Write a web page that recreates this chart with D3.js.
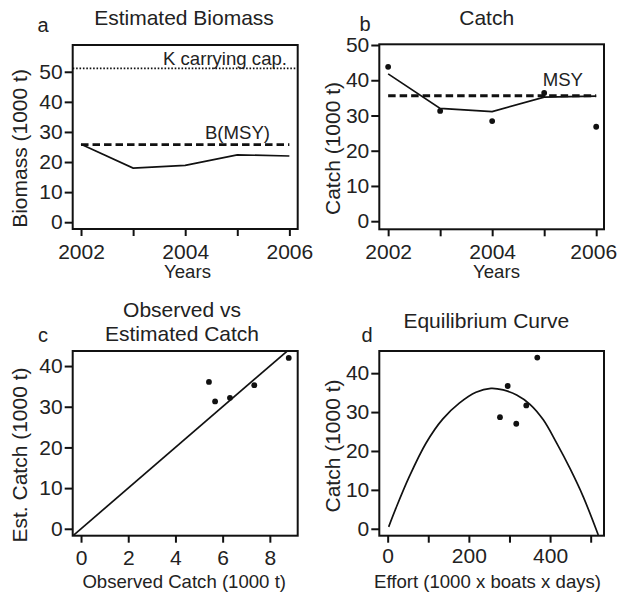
<!DOCTYPE html>
<html>
<head>
<meta charset="utf-8">
<script src="https://cdn.jsdelivr.net/npm/d3@7/dist/d3.min.js"></script>
<style>
  html, body { margin: 0; padding: 0; background: #fff; }
  svg { display: block; }
  text { font-family: "Liberation Sans", Arial, Helvetica, sans-serif; fill: #222; }
</style>
</head>
<body>
<svg id="chart" width="617" height="599"></svg>
<script>
// ---------- data ----------
const years = [2002, 2003, 2004, 2005, 2006];
const biomassEst = [25.9, 18.0, 18.9, 22.4, 22.0];
const carryingK = 51.1;
const biomassMSY = 25.8;

const catchObs = [43.8, 31.3, 28.4, 36.4, 26.8];
const catchEst = [41.8, 32.0, 31.1, 35.2, 35.5];
const msy = 35.6;

const obsCatchC = [5.42, 5.68, 6.31, 7.34, 8.80];
const estCatchC = [36.1, 31.3, 32.2, 35.3, 42.0];
const refLineC = [[-1, -5], [9.5, 47.5]];

const effortD = [368.5, 341.4, 276.6, 295.6, 316.7];
const catchD = [44.0, 31.7, 28.7, 36.7, 27.0];
const curveEffort = [2.5, 20.4, 53.2, 94.3, 135.5, 176.4, 217.5, 254.4, 284.7, 317.7, 350.5, 383.3, 416.3, 449.0, 481.8, 518.7];
const curveCatch  = [0.5, 5.3, 13.4, 22.0, 28.2, 32.3, 35.1, 36.1, 35.7, 34.4, 32.0, 28.0, 22.0, 15.5, 8.2, -1.6];

const yearTicks = [2002, 2003, 2004, 2005, 2006];
const yearLabels = [2002, 2004, 2006];
const yTicksAB = [0, 10, 20, 30, 40, 50];
const yTicksCD = [0, 10, 20, 30, 40];
const xTicksC = [0, 2, 4, 6, 8];
const xTicksD = [0, 100, 200, 300, 400, 500];
const xLabelsD = [0, 200, 400];

// ---------- helpers ----------
const svg = d3.select("#chart");
const TICK_FONT = 21, YTITLE_FONT = 21, XTITLE_FONT = 18.6, TITLE_FONT = 21, LETTER_FONT = 20;

function panel(cfg) {
  const g = svg.append("g");
  const x = d3.scaleLinear().domain(cfg.xDomain).range([cfg.left, cfg.right]);
  const y = d3.scaleLinear().domain(cfg.yDomain).range([cfg.bottom, cfg.top]);
  const clipId = "clip" + cfg.letter;
  svg.append("clipPath").attr("id", clipId).append("rect")
    .attr("x", cfg.left).attr("y", cfg.top)
    .attr("width", cfg.right - cfg.left).attr("height", cfg.bottom - cfg.top);
  const plot = g.append("g").attr("clip-path", `url(#${clipId})`);

  // x axis
  const xa = g.append("g").attr("transform", `translate(0,${cfg.bottom})`)
    .call(d3.axisBottom(x).tickValues(cfg.xTicks).tickSize(7)
      .tickFormat(d => cfg.xLabels.includes(d) ? String(d) : ""));
  xa.select(".domain").remove();
  xa.selectAll("line").attr("stroke", "#111").attr("stroke-width", 2);
  xa.selectAll("text").attr("y", cfg.xLabelOffset).attr("dy", 0)
    .style("font-size", TICK_FONT + "px").attr("fill", "#222");
  if (cfg.lastLabelShift) {
    xa.selectAll("text").filter(d => d === cfg.xTicks[cfg.xTicks.length - 1])
      .attr("dx", cfg.lastLabelShift);
  }

  // y axis
  const ya = g.append("g").attr("transform", `translate(${cfg.left},0)`)
    .call(d3.axisLeft(y).tickValues(cfg.yTicks).tickSize(8).tickPadding(2));
  ya.select(".domain").remove();
  ya.selectAll("line").attr("stroke", "#111").attr("stroke-width", 2);
  ya.selectAll("text").style("font-size", TICK_FONT + "px").attr("fill", "#222");

  // box
  g.append("rect").attr("x", cfg.left).attr("y", cfg.top)
    .attr("width", cfg.right - cfg.left).attr("height", cfg.bottom - cfg.top)
    .attr("fill", "none").attr("stroke", "#111").attr("stroke-width", 2);

  // titles
  cfg.title.forEach((t, i) => {
    g.append("text").attr("x", cfg.titleX).attr("y", cfg.titleY[i])
      .attr("text-anchor", "middle").style("font-size", TITLE_FONT + "px").text(t);
  });
  g.append("text").attr("x", cfg.letterX).attr("y", cfg.letterY)
    .attr("text-anchor", "middle").style("font-size", LETTER_FONT + "px").text(cfg.letter);
  g.append("text").attr("x", cfg.xTitleX).attr("y", cfg.xTitleY)
    .attr("text-anchor", "middle").style("font-size", XTITLE_FONT + "px").text(cfg.xTitle);
  g.append("text")
    .attr("transform", `translate(${cfg.yTitleX},${cfg.yTitleY}) rotate(-90)`)
    .attr("text-anchor", "middle").style("font-size", YTITLE_FONT + "px").text(cfg.yTitle);

  return { g, plot, x, y };
}

function dots(plot, x, y, xs, ys) {
  plot.selectAll(null).data(xs.map((v, i) => [v, ys[i]])).enter().append("circle")
    .attr("cx", d => x(d[0])).attr("cy", d => y(d[1])).attr("r", 2.9).attr("fill", "#111");
}

// ---------- panel a ----------
{
  const { g, plot, x, y } = panel({
    letter: "a", left: 72.7, right: 297.7, top: 45, bottom: 229,
    xDomain: [2001.84, 2006.16], yDomain: [-2.26, 58.9],
    xTicks: yearTicks, xLabels: yearLabels, yTicks: yTicksAB, xLabelOffset: 30,
    title: ["Estimated Biomass"], titleX: 184, titleY: [25],
    letterX: 43, letterY: 32, xTitle: "Years", xTitleX: 187.5, xTitleY: 278.3,
    yTitle: "Biomass (1000 t)", yTitleX: 26.5, yTitleY: 148.5
  });
  plot.append("line").attr("x1", x.range()[0]).attr("x2", x.range()[1])
    .attr("y1", y(carryingK)).attr("y2", y(carryingK))
    .attr("stroke", "#111").attr("stroke-width", 1.8).attr("stroke-dasharray", "1.6,1.8");
  plot.append("line").attr("x1", x(years[0])).attr("x2", x(years[years.length - 1]))
    .attr("y1", y(biomassMSY)).attr("y2", y(biomassMSY))
    .attr("stroke", "#111").attr("stroke-width", 2.8).attr("stroke-dasharray", "7.5,4");
  plot.append("path").datum(years.map((v, i) => [v, biomassEst[i]]))
    .attr("d", d3.line().x(d => x(d[0])).y(d => y(d[1])))
    .attr("fill", "none").attr("stroke", "#111").attr("stroke-width", 1.7);
  g.append("text").attr("x", 287).attr("y", 65).attr("text-anchor", "end")
    .style("font-size", "18.6px").text("K carrying cap.");
  g.append("text").attr("x", 270).attr("y", 138.5).attr("text-anchor", "end")
    .style("font-size", "18.6px").text("B(MSY)");
}

// ---------- panel b ----------
{
  const { g, plot, x, y } = panel({
    letter: "b", left: 379.3, right: 604, top: 44.3, bottom: 229.3,
    xDomain: [2001.83, 2006.15], yDomain: [-2.3, 50.2],
    xTicks: yearTicks, xLabels: yearLabels, yTicks: yTicksAB, xLabelOffset: 30,
    lastLabelShift: -3,
    title: ["Catch"], titleX: 486.7, titleY: [25],
    letterX: 365, letterY: 31, xTitle: "Years", xTitleX: 496.5, xTitleY: 278.3,
    yTitle: "Catch (1000 t)", yTitleX: 340, yTitleY: 148.5
  });
  plot.append("line").attr("x1", x(years[0])).attr("x2", x(years[years.length - 1]))
    .attr("y1", y(msy)).attr("y2", y(msy))
    .attr("stroke", "#111").attr("stroke-width", 2.8).attr("stroke-dasharray", "7.5,4");
  plot.append("path").datum(years.map((v, i) => [v, catchEst[i]]))
    .attr("d", d3.line().x(d => x(d[0])).y(d => y(d[1])))
    .attr("fill", "none").attr("stroke", "#111").attr("stroke-width", 1.7);
  dots(plot, x, y, years, catchObs);
  g.append("text").attr("x", 583).attr("y", 86).attr("text-anchor", "end")
    .style("font-size", "18.6px").text("MSY");
}

// ---------- panel c ----------
{
  const { g, plot, x, y } = panel({
    letter: "c", left: 72.7, right: 297.7, top: 351, bottom: 535.7,
    xDomain: [-0.353, 9.18], yDomain: [-1.7, 43.7],
    xTicks: xTicksC, xLabels: xTicksC, yTicks: yTicksCD, xLabelOffset: 29.5,
    title: ["Observed vs", "Estimated Catch"], titleX: 182, titleY: [316.7, 340.7],
    letterX: 43, letterY: 341.7, xTitle: "Observed Catch (1000 t)", xTitleX: 184.2, xTitleY: 588.3,
    yTitle: "Est. Catch (1000 t)", yTitleX: 26.5, yTitleY: 455
  });
  plot.append("path").datum(refLineC)
    .attr("d", d3.line().x(d => x(d[0])).y(d => y(d[1])))
    .attr("fill", "none").attr("stroke", "#111").attr("stroke-width", 1.7);
  dots(plot, x, y, obsCatchC, estCatchC);
}

// ---------- panel d ----------
{
  const { g, plot, x, y } = panel({
    letter: "d", left: 379.3, right: 604, top: 351, bottom: 535.7,
    xDomain: [-20.6, 532.8], yDomain: [-1.78, 45.7],
    xTicks: xTicksD, xLabels: xLabelsD, yTicks: yTicksCD, xLabelOffset: 27.5,
    title: ["Equilibrium Curve"], titleX: 486.3, titleY: [328.3],
    letterX: 367, letterY: 341.7, xTitle: "Effort (1000 x boats x days)", xTitleX: 487.5, xTitleY: 587.7,
    yTitle: "Catch (1000 t)", yTitleX: 339.5, yTitleY: 446
  });
  plot.append("path").datum(curveEffort.map((v, i) => [v, curveCatch[i]]))
    .attr("d", d3.line().curve(d3.curveCatmullRom).x(d => x(d[0])).y(d => y(d[1])))
    .attr("fill", "none").attr("stroke", "#111").attr("stroke-width", 1.7);
  dots(plot, x, y, effortD, catchD);
}
</script>
</body>
</html>
